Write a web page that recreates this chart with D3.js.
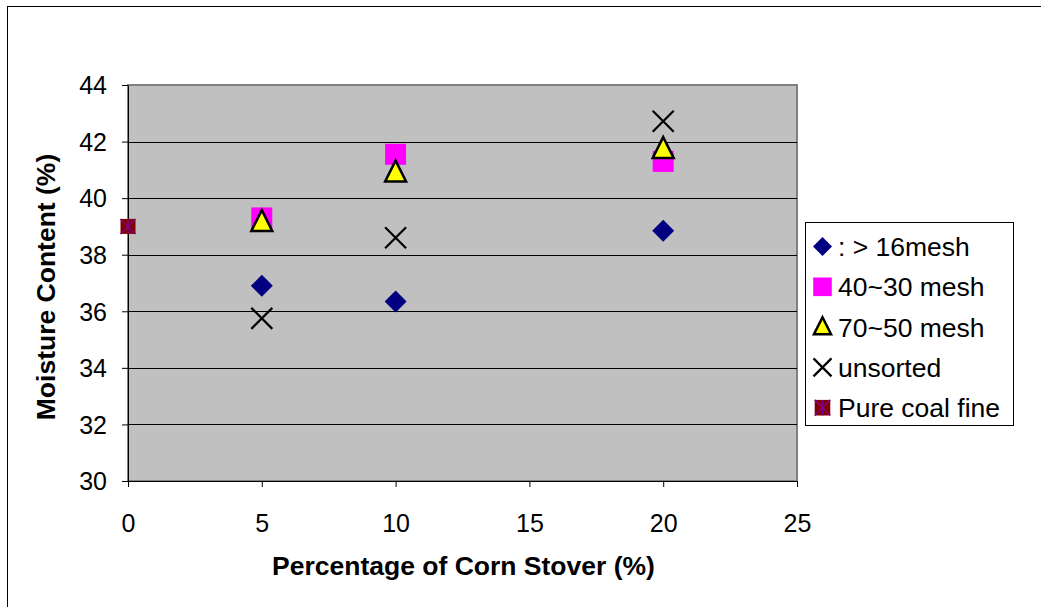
<!DOCTYPE html>
<html>
<head>
<meta charset="utf-8">
<script src="https://cdn.jsdelivr.net/npm/d3@7"></script>
<style>
  body { margin: 0; background: #fff; }
  text { font-family: "Liberation Sans", Arial, sans-serif; }
</style>
</head>
<body>
<div id="chart"></div>
<script>
// data
const xTicks = [0, 5, 10, 15, 20, 25];
const yTicks = [30, 32, 34, 36, 38, 40, 42, 44];
const mesh16X = [5, 10, 20];
const mesh16Y = [36.9, 36.35, 38.85];
const mesh40X = [5, 10, 20];
const mesh40Y = [39.3, 41.55, 41.3];
const mesh70X = [5, 10, 20];
const mesh70Y = [39.15, 40.9, 41.73];
const unsortedX = [5, 10, 20];
const unsortedY = [35.75, 38.6, 42.72];
const coalX = [0];
const coalY = [39];
const seriesNames = [": > 16mesh", "40~30 mesh", "70~50 mesh", "unsorted", "Pure coal fine"];

const W = 1041, H = 607;
const margin = { top: 85, right: 244, bottom: 126, left: 128 };
const width = W - margin.left - margin.right;
const height = H - margin.top - margin.bottom;

const svg = d3.select("#chart").append("svg")
  .attr("width", W)
  .attr("height", H);

// outer chart border (right/bottom fall outside the picture)
svg.append("rect")
  .attr("x", 7.5).attr("y", 6.5)
  .attr("width", 1100).attr("height", 700)
  .attr("fill", "#fff")
  .attr("stroke", "#000");

const g = svg.append("g")
  .attr("transform", `translate(${margin.left}, ${margin.top})`);

const xScale = d3.scaleLinear().domain([0, 25]).range([0, width]);
const yScale = d3.scaleLinear().domain([30, 44]).range([height, 0]);

// plot area
g.append("rect")
  .attr("width", width).attr("height", height)
  .attr("fill", "#c0c0c0")
  .attr("stroke", "#808080")
  .attr("stroke-width", 2);

// gridlines
g.selectAll(".grid")
  .data(yTicks.slice(1, -1))
  .enter().append("line")
  .attr("x1", 0).attr("x2", width)
  .attr("y1", (d) => Math.round(yScale(d)) + 0.5)
  .attr("y2", (d) => Math.round(yScale(d)) + 0.5)
  .attr("stroke", "#000");

// axes
const xAxis = g.append("g")
  .attr("transform", `translate(0, ${height})`)
  .call(d3.axisBottom(xScale).tickValues(xTicks).tickSize(6).tickSizeOuter(0).tickPadding(27));
const yAxis = g.append("g")
  .call(d3.axisLeft(yScale).tickValues(yTicks).tickSize(6).tickSizeOuter(0).tickPadding(15));

[xAxis, yAxis].forEach((a) => {
  a.select(".domain").attr("stroke", "#000");
  a.selectAll("line").attr("stroke", "#000");
  a.selectAll("text")
    .style("font-size", "25px")
    .attr("fill", "#000")
    .style("font-family", "'Liberation Sans', Arial, sans-serif");
});
yAxis.selectAll("text").attr("dy", "0.35em");

// axis titles
g.append("text")
  .attr("x", width / 2 + 1)
  .attr("y", height + 94)
  .attr("text-anchor", "middle")
  .style("font-size", "26.5px")
  .style("font-weight", "bold")
  .text("Percentage of Corn Stover (%)");

g.append("text")
  .attr("transform", "rotate(-90)")
  .attr("x", -height / 2 - 4)
  .attr("y", -73)
  .attr("text-anchor", "middle")
  .style("font-size", "26.5px")
  .style("font-weight", "bold")
  .text("Moisture Content (%)");

// marker drawers
function diamond(sel, s) {
  sel.append("path").attr("d", `M0,${-s}L${s},0L0,${s}L${-s},0Z`).attr("fill", "#000080");
}
function square(sel, s) {
  sel.append("rect").attr("x", -s).attr("y", -s).attr("width", 2 * s).attr("height", 2 * s).attr("fill", "#ff00ff");
}
function triangle(sel, s) {
  sel.append("path").attr("d", `M0,${-s * 1.1}L${s * 0.95},${s * 0.8}L${-s * 0.95},${s * 0.8}Z`)
    .attr("fill", "#ffff00").attr("stroke", "#000").attr("stroke-width", 2.5).attr("stroke-linejoin", "miter");
}
function cross(sel, s) {
  sel.append("path").attr("d", `M${-s},${-s}L${s},${s}M${s},${-s}L${-s},${s}`)
    .attr("stroke", "#000").attr("stroke-width", 2.2);
}
function coal(sel, s) {
  sel.append("rect").attr("x", -s).attr("y", -s).attr("width", 2 * s).attr("height", 2 * s).attr("fill", "#800000");
  sel.append("path").attr("d", `M${-s},${-s}L${s},${s}M${s},${-s}L${-s},${s}M0,${-s}L0,${s}`)
    .attr("stroke", "#800080").attr("stroke-width", 1.5);
}

const series = [
  { xs: mesh16X, ys: mesh16Y, draw: diamond, size: 11, lsize: 9.5 },
  { xs: mesh40X, ys: mesh40Y, draw: square, size: 10.5, lsize: 9.3 },
  { xs: mesh70X, ys: mesh70Y, draw: triangle, size: 11, lsize: 9 },
  { xs: unsortedX, ys: unsortedY, draw: cross, size: 10.5, lsize: 9 },
  { xs: coalX, ys: coalY, draw: coal, size: 7.5, lsize: 7.8 }
];

// draw order: squares first, then triangles on top, as in the original
[1, 2, 0, 3, 4].forEach((i) => {
  const s = series[i];
  s.xs.forEach((xv, j) => {
    const m = g.append("g")
      .attr("transform", `translate(${xScale(xv)}, ${yScale(s.ys[j])})`);
    s.draw(m, s.size);
  });
});

// legend
const legend = svg.append("g").attr("transform", "translate(805, 222)");
legend.append("rect")
  .attr("x", 0.5).attr("y", 0.5)
  .attr("width", 208).attr("height", 203)
  .attr("fill", "#fff")
  .attr("stroke", "#000");

seriesNames.forEach((name, i) => {
  const row = legend.append("g").attr("transform", `translate(0, ${24.5 + i * 40.3})`);
  const m = row.append("g").attr("transform", "translate(17.5, 0)");
  series[i].draw(m, series[i].lsize);
  row.append("text")
    .attr("x", 33)
    .attr("y", 0)
    .attr("dy", "0.36em")
    .style("font-size", "26.5px")
    .text(name);
});
</script>
</body>
</html>
